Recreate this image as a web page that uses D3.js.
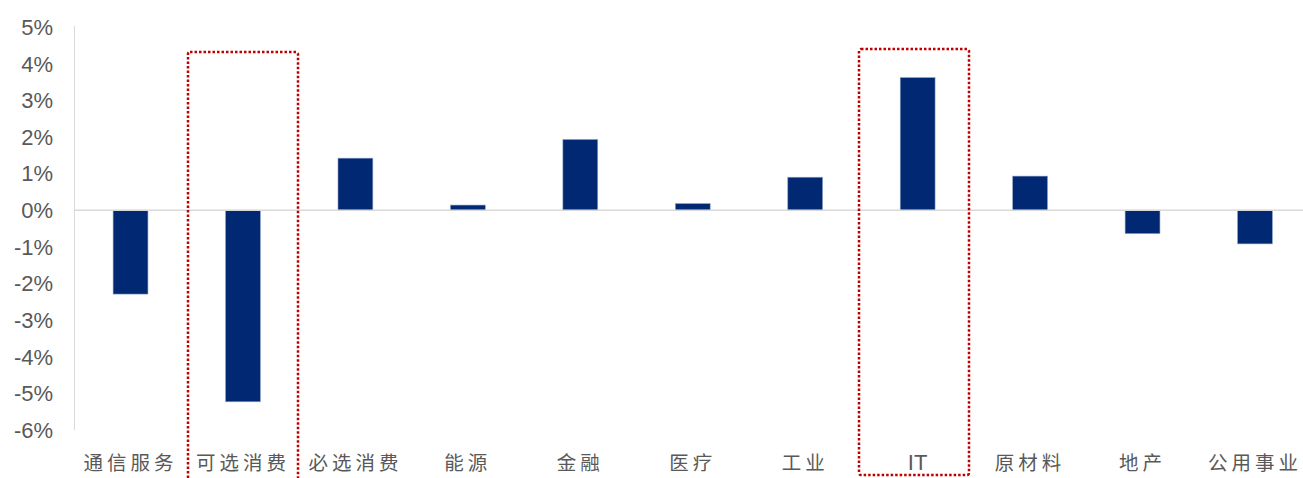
<!DOCTYPE html>
<html>
<head>
<meta charset="utf-8">
<script src="https://cdn.jsdelivr.net/npm/d3@7"></script>
<style>
  body { margin: 0; background: #fff; }
  svg { display: block; }
</style>
</head>
<body>
<div id="chart"></div>
<script>
var categories = ['通信服务','可选消费','必选消费','能源','金融','医疗','工业','IT','原材料','地产','公用事业'];
var values = [-2.29, -5.23, 1.42, 0.14, 1.93, 0.18, 0.9, 3.62, 0.93, -0.64, -0.92];
var yTicks = [5,4,3,2,1,0,-1,-2,-3,-4,-5,-6];
var highlighted = ['可选消费','IT'];

var W = 1303, H = 478;

var svg = d3.select('#chart')
  .append('svg')
  .attr('width', W)
  .attr('height', H);

var x = d3.scaleBand()
  .domain(categories)
  .range([74.3, 1311.2])
  .paddingInner(0.69)
  .paddingOuter(0.345);

var y = d3.scaleLinear()
  .domain([-6, 5])
  .range([430, 27]);

// y axis line
svg.append('line')
  .attr('x1', 74.5).attr('x2', 74.5)
  .attr('y1', y(5) - 1).attr('y2', y(-6))
  .style('stroke', '#d9d9d9')
  .style('stroke-width', 1);

// y tick labels
svg.append('g')
  .selectAll('text')
  .data(yTicks)
  .enter()
  .append('text')
  .attr('x', 53)
  .attr('y', d => y(d))
  .attr('dy', '0.36em')
  .attr('text-anchor', 'end')
  .style('font-family', 'Liberation Sans, Arial, sans-serif')
  .style('font-size', '22px')
  .style('fill', '#595959')
  .text(d => d + '%');

// bars
svg.append('g')
  .selectAll('rect')
  .data(values)
  .enter()
  .append('rect')
  .attr('x', (d, i) => x(categories[i]))
  .attr('width', x.bandwidth())
  .attr('y', d => y(Math.max(0, d)))
  .attr('height', d => Math.abs(y(d) - y(0)))
  .style('fill', '#002873')
  .style('stroke', '#8fa3c6')
  .style('stroke-width', 0.6);

// zero line
svg.append('line')
  .attr('x1', 74).attr('x2', W)
  .attr('y1', y(0)).attr('y2', y(0))
  .style('stroke', '#d9d9d9')
  .style('stroke-width', 1.5);

// category labels
svg.append('g')
  .selectAll('text')
  .data(categories)
  .enter()
  .append('text')
  .attr('x', d => x(d) + x.bandwidth() / 2)
  .attr('y', 470)
  .attr('text-anchor', 'middle')
  .style('font-family', d => d === 'IT' ? 'Liberation Sans, Arial, sans-serif' : '"Noto Sans CJK SC", sans-serif')
  .style('font-size', d => d === 'IT' ? '22px' : '19.5px')
  .style('letter-spacing', d => d === 'IT' ? '0px' : '4px')
  .style('fill', '#595959')
  .text(d => d);

// red dotted highlight boxes
var boxes = [
  {cat: '可选消费', top: 52, bottom: 484, shift: 1},
  {cat: 'IT', top: 49, bottom: 475, shift: -3}
];
svg.append('g')
  .selectAll('rect')
  .data(boxes)
  .enter()
  .append('rect')
  .attr('x', d => Math.round(x(d.cat) + x.bandwidth() / 2 - 56 + d.shift))
  .attr('y', d => d.top)
  .attr('width', 110)
  .attr('height', d => d.bottom - d.top)
  .attr('rx', 2)
  .style('fill', 'none')
  .style('stroke', '#c00000')
  .style('stroke-width', 2.5)
  .style('stroke-dasharray', '2.5 2');
</script>
</body>
</html>
